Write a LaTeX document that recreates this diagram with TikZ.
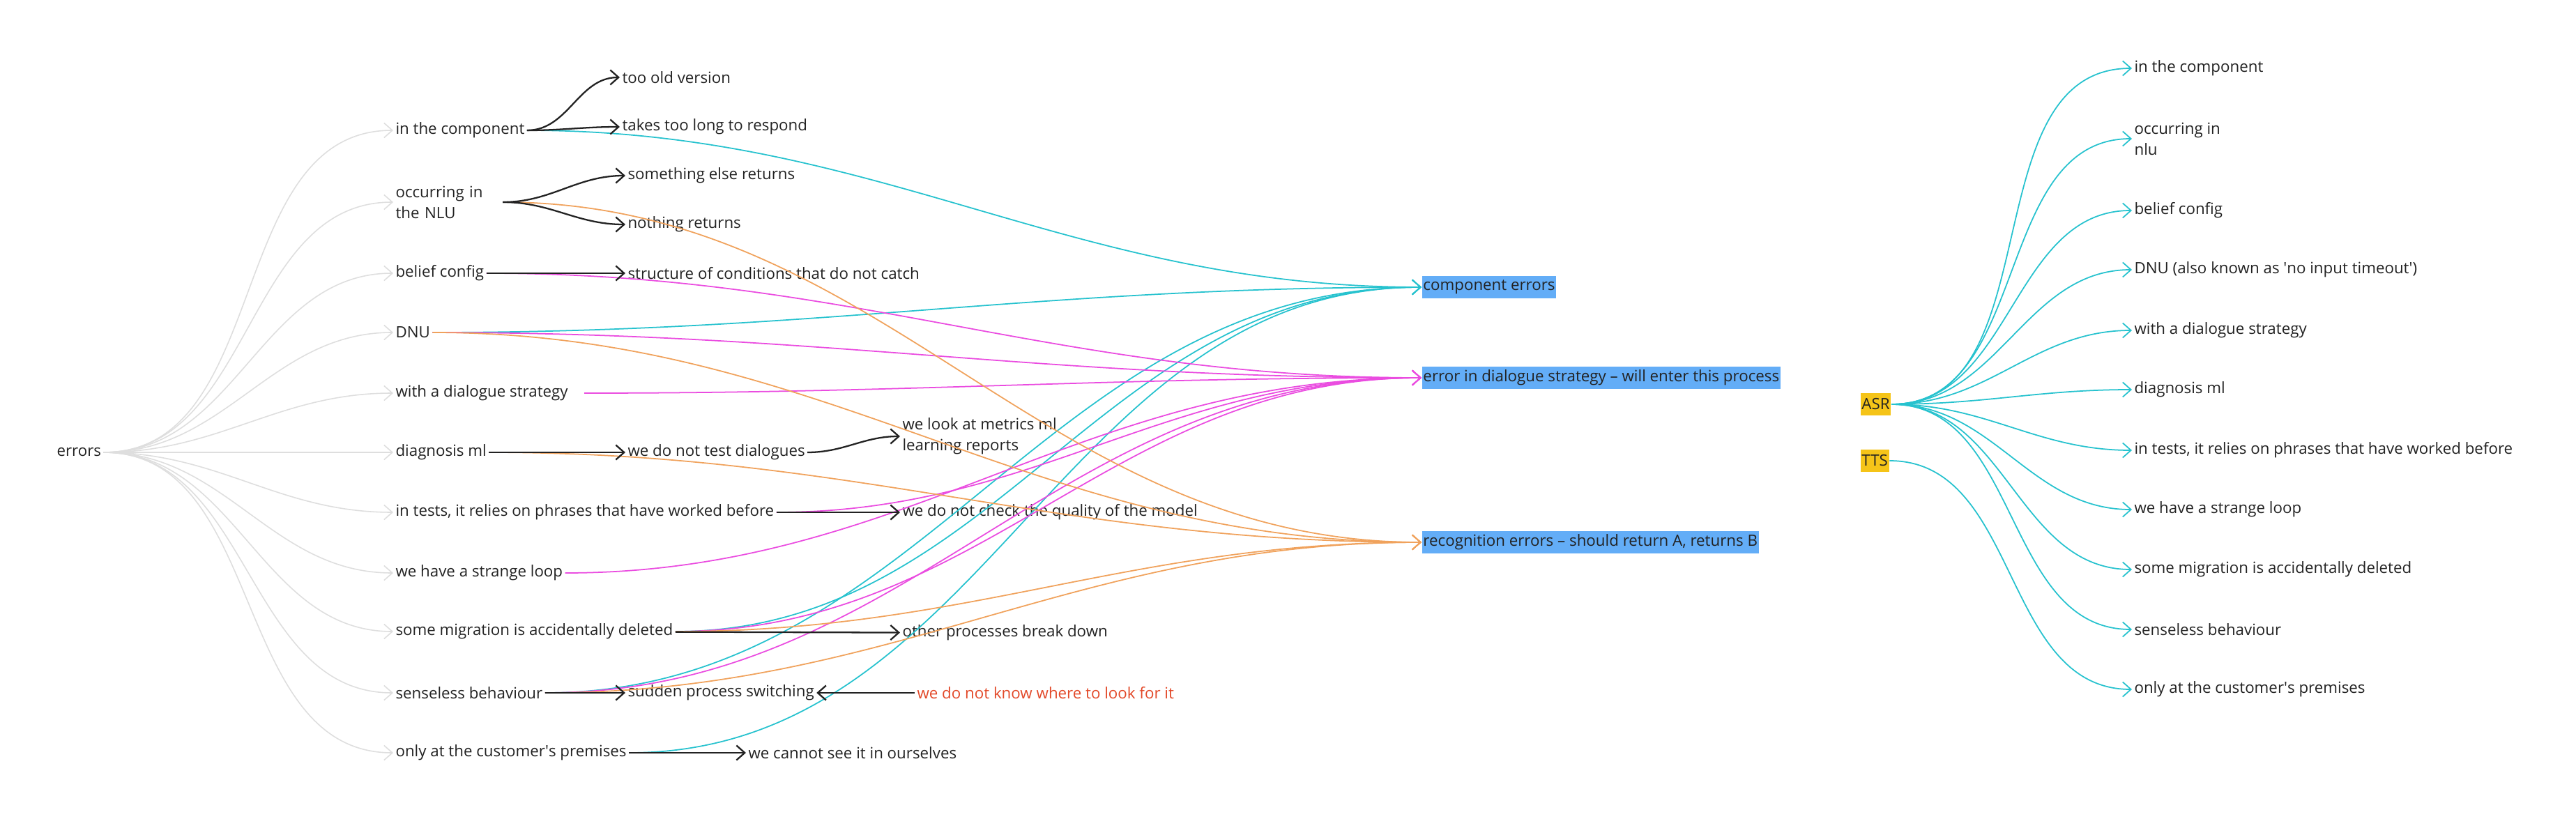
\documentclass[tikz,border=0pt]{standalone}
\usepackage{fontspec}
\setmainfont{Open Sans}
\usetikzlibrary{arrows.meta}
\definecolor{linkcyan}{RGB}{38,194,206}
\definecolor{linkpink}{RGB}{234,76,224}
\definecolor{linkorange}{RGB}{240,162,92}
\definecolor{boxblue}{RGB}{99,173,247}
\definecolor{boxyellow}{RGB}{245,196,24}
\definecolor{alertred}{RGB}{226,72,40}
\definecolor{inkgray}{RGB}{34,34,34}

\begin{document}
\begin{tikzpicture}[
  txt/.style={anchor=west, inner xsep=0.8pt, inner ysep=0pt, align=left,
              text=inkgray, font=\fontsize{6.35}{8.5}\selectfont},
  hl/.style={txt, fill=boxblue, inner xsep=0.5pt, minimum height=0.32cm},
  tag/.style={txt, fill=boxyellow, inner xsep=0.5pt, minimum height=0.32cm},
  link/.style={-{Straight Barb[length=3.4pt,width=6pt]}, line width=0.5pt},
  root/.style={link, draw=black!13, line width=0.45pt},
  plain/.style={link, draw=inkgray, line width=0.65pt},
  tocomp/.style={link, draw=linkcyan},
  tostrat/.style={link, draw=linkpink},
  torecog/.style={link, draw=linkorange}
]
  \useasboundingbox (0,0) rectangle (36.95,-11.75);

  \node[txt] (err) at (0.78,-6.49) {errors};

  \node[txt] (comp) at (5.64,-1.87) {in the component};
  \node[txt, text width=1.5cm] (nlu) at (5.64,-2.90) {occurring in\\the NLU};
  \node[txt] (belief) at (5.64,-3.92) {belief config};
  \node[txt] (dnu) at (5.64,-4.77) {DNU};
  \node[txt] (strat) at (5.64,-5.64) {with a dialogue strategy};
  \node[txt] (diag) at (5.64,-6.49) {diagnosis ml};
  \node[txt] (tests) at (5.64,-7.35) {in tests, it relies on phrases that have worked before};
  \node[txt] (loop) at (5.64,-8.22) {we have a strange loop};
  \node[txt] (migr) at (5.64,-9.06) {some migration is accidentally deleted};
  \node[txt] (sense) at (5.64,-9.94) {senseless behaviour};
  \node[txt] (prem) at (5.64,-10.80) {only at the customer\textquotesingle s premises};

  \node[txt] (old) at (8.89,-1.11) {too old version};
  \node[txt] (slow) at (8.89,-1.82) {takes too long to respond};
  \node[txt] (other) at (8.97,-2.52) {something else returns};
  \node[txt] (none) at (8.97,-3.22) {nothing returns};
  \node[txt] (conds) at (8.97,-3.92) {structure of conditions that do not catch};
  \node[txt] (notest) at (8.97,-6.49) {we do not test dialogues};
  \node[txt] (switch) at (8.97,-9.94) {sudden process switching};
  \node[txt] (cantsee) at (10.70,-10.80) {we cannot see it in ourselves};

  \node[txt] (metrics) at (12.91,-6.26) {we look at metrics ml\\learning reports};
  \node[txt] (quality) at (12.91,-7.35) {we do not check the quality of the model};
  \node[txt] (brk) at (12.91,-9.08) {other processes break down};
  \node[txt, text=alertred] (unknown) at (13.12,-9.94) {we do not know where to look for it};

  \node[hl] (comperr) at (20.39,-4.12) {component errors};
  \node[hl] (straterr) at (20.39,-5.42) {error in dialogue strategy -- will enter this process};
  \node[hl] (recog) at (20.39,-7.78) {recognition errors -- should return A, returns B};

  \node[tag] (asr) at (26.68,-5.80) {ASR};
  \node[tag] (tts) at (26.68,-6.61) {TTS};

  \node[txt] (rcomp) at (30.58,-0.98) {in the component};
  \node[txt] (rnlu) at (30.58,-1.99) {occurring in\\nlu};
  \node[txt] (rbelief) at (30.58,-3.02) {belief config};
  \node[txt] (rdnu) at (30.58,-3.87) {DNU (also known as \textquotesingle no input timeout\textquotesingle)};
  \node[txt] (rstrat) at (30.58,-4.74) {with a dialogue strategy};
  \node[txt] (rdiag) at (30.58,-5.59) {diagnosis ml};
  \node[txt] (rtests) at (30.58,-6.46) {in tests, it relies on phrases that have worked before};
  \node[txt] (rloop) at (30.58,-7.31) {we have a strange loop};
  \node[txt] (rmigr) at (30.58,-8.17) {some migration is accidentally deleted};
  \node[txt] (rsense) at (30.58,-9.03) {senseless behaviour};
  \node[txt] (rprem) at (30.58,-9.89) {only at the customer\textquotesingle s premises};

  % errors fan
  \draw[root] (err) to[out=0,in=180] (comp);
  \draw[root] (err) to[out=0,in=180] (nlu);
  \draw[root] (err) to[out=0,in=180] (belief);
  \draw[root] (err) to[out=0,in=180] (dnu);
  \draw[root] (err) to[out=0,in=180] (strat);
  \draw[root] (err) to[out=0,in=180] (diag);
  \draw[root] (err) to[out=0,in=180] (tests);
  \draw[root] (err) to[out=0,in=180] (loop);
  \draw[root] (err) to[out=0,in=180] (migr);
  \draw[root] (err) to[out=0,in=180] (sense);
  \draw[root] (err) to[out=0,in=180] (prem);

  % categories
  \draw[tocomp] (comp) to[out=0,in=180] (comperr);
  \draw[tocomp] (dnu) to[out=0,in=180] (comperr);
  \draw[tocomp] (migr) to[out=0,in=180] (comperr);
  \draw[tocomp] (sense) to[out=0,in=180] (comperr);
  \draw[tocomp] (prem) to[out=0,in=180] (comperr);

  \draw[tostrat] (belief) to[out=0,in=180] (straterr);
  \draw[tostrat] (dnu) to[out=0,in=180] (straterr);
  \draw[tostrat] ([xshift=2mm]strat.east) to[out=0,in=180] (straterr);
  \draw[tostrat] (tests) to[out=0,in=180] (straterr);
  \draw[tostrat] (loop) to[out=0,in=180] (straterr);
  \draw[tostrat] (migr) to[out=0,in=180] (straterr);
  \draw[tostrat] (sense) to[out=0,in=180] (straterr);

  \draw[torecog] (nlu) to[out=0,in=180] (recog);
  \draw[torecog] (dnu) to[out=0,in=180] (recog);
  \draw[torecog] (diag) to[out=0,in=180] (recog);
  \draw[torecog] (migr) to[out=0,in=180] (recog);
  \draw[torecog] (sense) to[out=0,in=180] (recog);

  % details
  \draw[plain] (comp) to[out=0,in=180] (old);
  \draw[plain] (comp) to[out=0,in=180] (slow);
  \draw[plain] (nlu) to[out=0,in=180] (other);
  \draw[plain] (nlu) to[out=0,in=180] (none);
  \draw[plain] (belief) to[out=0,in=180] (conds);
  \draw[plain] (diag) -- (notest);
  \draw[plain] (notest) to[out=0,in=180] (metrics);
  \draw[plain] (tests) -- (quality);
  \draw[plain] (migr) -- (brk);
  \draw[plain] (sense) -- (switch);
  \draw[plain] (unknown) -- (switch);
  \draw[plain] (prem) -- (cantsee);

  % ASR / TTS
  \draw[tocomp] (asr) to[out=0,in=180] (rcomp);
  \draw[tocomp] (asr) to[out=0,in=180] (rnlu);
  \draw[tocomp] (asr) to[out=0,in=180] (rbelief);
  \draw[tocomp] (asr) to[out=0,in=180] (rdnu);
  \draw[tocomp] (asr) to[out=0,in=180] (rstrat);
  \draw[tocomp] (asr) to[out=0,in=180] (rdiag);
  \draw[tocomp] (asr) to[out=0,in=180] (rtests);
  \draw[tocomp] (asr) to[out=0,in=180] (rloop);
  \draw[tocomp] (asr) to[out=0,in=180] (rmigr);
  \draw[tocomp] (asr) to[out=0,in=180] (rsense);
  \draw[tocomp] (tts) to[out=0,in=180] (rprem);
\end{tikzpicture}
\end{document}
